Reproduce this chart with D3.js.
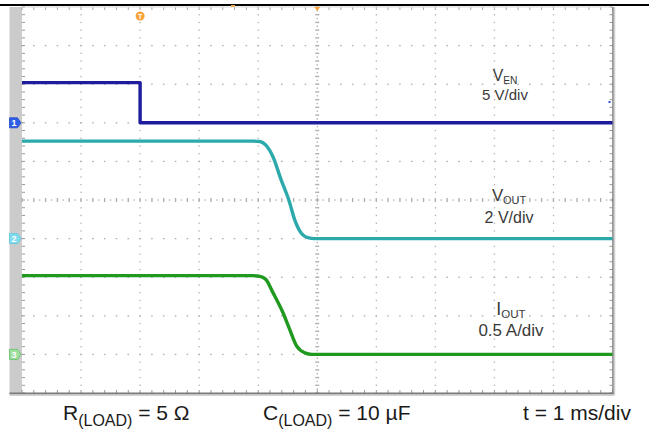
<!DOCTYPE html>
<html><head><meta charset="utf-8">
<script src="https://cdn.jsdelivr.net/npm/d3@7"></script>
<style>body{margin:0;background:#fff}svg{display:block}text{font-family:"Liberation Sans",Arial,sans-serif}</style>
</head><body>
<svg id="c" width="649" height="437"></svg>
<script>
// ---- data (time in ms relative to screen centre, 1 ms/div) ----
const timeEN = [-5, -3.0, -3.0, 5];
const ven    = [5.2, 5.2, 0, 0];                 // V, 5 V/div
const timeOut = [-5, -1.1, -0.97, -0.87, -0.75, -0.61, -0.48, -0.38, -0.27, -0.16, -0.04, 5];
const vout    = [5.05, 5.05, 5.03, 4.84, 4.24, 3.03, 1.99, 0.96, 0.28, 0.05, 0, 0]; // V, 2 V/div
const timeI = [-5, -1.1, -0.97, -0.87, -0.75, -0.58, -0.47, -0.35, -0.21, -0.09, 5];
const iout  = [1.02, 1.02, 1.01, 0.97, 0.80, 0.54, 0.33, 0.11, 0.02, 0, 0];           // A, 0.5 A/div
const channelNames = ["V", "V", "I"];
const channelSubs  = ["EN", "OUT", "OUT"];
const channelScales = ["5 V/div", "2 V/div", "0.5 A/div"];
const channelIds = ["1", "2", "3"];
const channelOffsets = [2, -1, -4];   // ground position in divisions from centre
const channelPerDiv = [5, 2, 0.5];
const footerMain = ["R", "C", "t = 1 ms/div"];
const footerSub  = ["(LOAD)", "(LOAD)", ""];
const footerTail = [" = 5 Ω", " = 10 µF", ""];

const svg = d3.select("#c");
const L = 22, R = 612.5, T = 7, B = 393;
const x = d3.scaleLinear().domain([-5, 5]).range([L, R]);      // time / divisions
const gy = d3.scaleLinear().domain([-5, 5]).range([B, T]);     // vertical divisions
const colors = ["#1c1c9c", "#2ba9ab", "#1f9a1f"];
const markerFill = ["#2f5fe6", "#7fdcee", "#9fe09f"];

// top rule
svg.append("rect").attr("x", 0).attr("y", 4).attr("width", 649).attr("height", 2).attr("fill", "#000");
// left gray strip
svg.append("rect").attr("x", 9.5).attr("y", T).attr("width", L - 9.5).attr("height", B - T + 1).attr("fill", "#cbcbcb");

const g = svg.append("g");
// dotted grid
const gridColor = "#b0b0b0";
for (let i = -4; i <= 4; i++) {
  if (i === 0) continue;
  d3.range(-25, 25.01, 1).forEach(k => {
    g.append("rect").attr("x", x(i) - 0.6).attr("y", gy(k / 5) - 0.6).attr("width", 1.3).attr("height", 1.3).attr("fill", gridColor);
  });
}
for (let j = -4; j <= 4; j++) {
  if (j === 0) continue;
  d3.range(-25, 25.01, 1).forEach(k => {
    g.append("rect").attr("x", x(k / 5) - 0.8).attr("y", gy(j) - 0.6).attr("width", 1.6).attr("height", 1.3).attr("fill", gridColor);
  });
}
// centre lines with ticks
d3.range(-50, 50.01, 1).forEach(k => {
  const major = k % 2 === 0;
  g.append("rect").attr("x", x(k / 10) - 0.7).attr("y", gy(0) - (major ? 2 : 0.6)).attr("width", 1.4).attr("height", major ? 4 : 1.3).attr("fill", gridColor);
  g.append("rect").attr("x", x(0) - (major ? 2 : 0.6)).attr("y", gy(k / 10) - 0.7).attr("width", major ? 4 : 1.3).attr("height", 1.4).attr("fill", gridColor);
});
// border ticks
d3.range(-25, 25.01, 1).forEach(k => {
  g.append("rect").attr("x", L).attr("y", gy(k / 5) - 0.5).attr("width", 3).attr("height", 1).attr("fill", "#999");
  g.append("rect").attr("x", R - 3).attr("y", gy(k / 5) - 0.5).attr("width", 3).attr("height", 1).attr("fill", "#999");
  g.append("rect").attr("x", x(k / 5) - 0.5).attr("y", T).attr("width", 1).attr("height", 3).attr("fill", "#aaa");
  g.append("rect").attr("x", x(k / 5) - 0.5).attr("y", B - 3).attr("width", 1).attr("height", 3).attr("fill", "#999");
});
// borders
svg.append("line").attr("x1", L).attr("x2", R).attr("y1", T).attr("y2", T).attr("stroke", "#d8d8d8").attr("stroke-width", 1);
svg.append("line").attr("x1", R + 0.5).attr("x2", R + 0.5).attr("y1", T).attr("y2", B + 1).attr("stroke", "#7a7a7a").attr("stroke-width", 1.5);
svg.append("line").attr("x1", R + 2).attr("x2", R + 2).attr("y1", T).attr("y2", B + 2).attr("stroke", "#d0d0d0").attr("stroke-width", 1.5);
svg.append("line").attr("x1", 9.5).attr("x2", R + 1).attr("y1", B + 0.5).attr("y2", B + 0.5).attr("stroke", "#7a7a7a").attr("stroke-width", 1.8);
svg.append("line").attr("x1", 9.5).attr("x2", R + 2).attr("y1", B + 2.2).attr("y2", B + 2.2).attr("stroke", "#d0d0d0").attr("stroke-width", 1.5);

// traces
const series = [[timeEN, ven], [timeOut, vout], [timeI, iout]];
series.forEach(([ts, vs], c) => {
  const ys = d3.scaleLinear().domain([0, channelPerDiv[c]]).range([gy(channelOffsets[c]), gy(channelOffsets[c] + 1)]);
  const pts = ts.map((t, i) => [t, vs[i]]);
  const line = d3.line().x(d => x(d[0])).y(d => ys(d[1])).curve(c === 0 ? d3.curveLinear : d3.curveMonotoneX);
  svg.append("path").datum(pts).attr("d", line).attr("fill", "none").attr("stroke", colors[c]).attr("stroke-width", 3.4).attr("stroke-linejoin", "round");
  // ground marker
  const my = gy(channelOffsets[c]);
  svg.append("path").attr("d", `M9.5,${my - 5} h8 l3.5,5 l-3.5,5 h-8 z`).attr("fill", markerFill[c]).attr("stroke", c === 0 ? "#2548c8" : (c === 1 ? "#5cc8e0" : "#60c060")).attr("stroke-width", 0.8);
  svg.append("text").attr("x", 14).attr("y", my + 3.2).attr("text-anchor", "middle").attr("font-size", 9).attr("font-weight", "bold").attr("fill", "#fff").text(channelIds[c]);
});

// trigger markers
svg.append("circle").attr("cx", x(-3.0)).attr("cy", 16).attr("r", 4.5).attr("fill", "#f7a43a");
svg.append("text").attr("x", x(-3.0)).attr("y", 19).attr("text-anchor", "middle").attr("font-size", 7).attr("font-weight", "bold").attr("fill", "#fff").text("T");
svg.append("path").attr("d", `M${x(0) - 3},${T} h6 l-3,4 z`).attr("fill", "#f7a43a");
svg.append("rect").attr("x", 231).attr("y", 5).attr("width", 4).attr("height", 2).attr("fill", "#f0b050");
svg.append("rect").attr("x", 608.5).attr("y", 101).attr("width", 2).attr("height", 2).attr("fill", "#3050e0");

// channel labels
const labelPos = [[505, 81, 100, 15], [509, 201, 223, 16], [511, 315, 336, 17]];
labelPos.forEach(([cx, y1, y2, fs], c) => {
  const t = svg.append("text").attr("x", cx).attr("y", y1).attr("text-anchor", "middle").attr("font-size", fs).attr("fill", "#3a3a3a");
  t.append("tspan").attr("font-size", fs * 1.05).text(channelNames[c]);
  t.append("tspan").attr("font-size", fs * 0.68).attr("dy", 3).text(channelSubs[c]);
  svg.append("text").attr("x", cx).attr("y", y2).attr("text-anchor", "middle").attr("font-size", fs).attr("fill", "#3a3a3a").text(channelScales[c]);
});

// footer
const footX = [63, 263, 523];
footerMain.forEach((m, i) => {
  const t = svg.append("text").attr("x", footX[i]).attr("y", 420).attr("font-size", 21).attr("fill", "#1a1a1a");
  t.append("tspan").text(m);
  if (footerSub[i]) {
    t.append("tspan").attr("font-size", 16).attr("dy", 6).text(footerSub[i]);
    t.append("tspan").attr("dy", -6).text(footerTail[i]);
  }
});
</script>
</body></html>
